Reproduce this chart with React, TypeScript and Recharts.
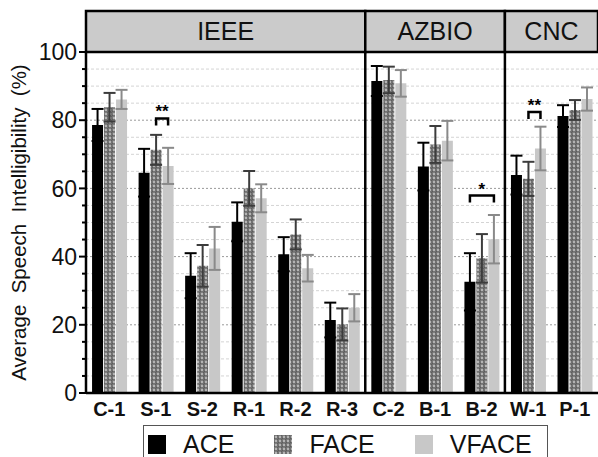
import React from "react";
import {
  BarChart,
  Bar,
  XAxis,
  YAxis,
  CartesianGrid,
  ErrorBar,
  ReferenceArea,
  ReferenceLine,
  LabelList,
  Legend,
} from "recharts";

// conditions on the x axis
const categories = ["C-1", "S-1", "S-2", "R-1", "R-2", "R-3", "C-2", "B-1", "B-2", "W-1", "P-1"];

// mean intelligibility (%) and error (+/-)
const aceMean = [78.6, 64.6, 34.4, 50.2, 40.7, 21.4, 91.5, 66.4, 32.6, 63.9, 81.2];
const aceErr = [4.7, 7.0, 6.6, 5.7, 5.0, 5.1, 4.4, 7.0, 8.4, 5.7, 3.2];
const faceMean = [83.8, 71.3, 37.3, 60.0, 46.5, 20.1, 91.8, 72.9, 39.5, 62.8, 83.0];
const faceErr = [4.2, 4.4, 6.1, 5.1, 4.4, 4.7, 3.9, 5.4, 7.1, 5.0, 2.9];
const vfaceMean = [86.1, 66.6, 42.4, 57.1, 36.6, 25.0, 90.8, 74.0, 45.1, 71.7, 86.2];
const vfaceErr = [2.8, 5.3, 6.3, 4.1, 3.9, 4.0, 3.9, 5.8, 7.1, 6.4, 3.4];

// header groups
const groupNames = ["IEEE", "AZBIO", "CNC"];
const groupFirst = ["C-1", "C-2", "W-1"];
const groupLast = ["R-3", "B-2", "P-1"];

// significance brackets: category, starting series, bracket level, stars
const sigCats = ["S-1", "B-2", "W-1"];
const sigFrom = ["face", "ace", "face"];
const sigLevel = [80.5, 57.9, 82.4];
const sigStars = ["**", "*", "**"];

const yTicks = [0, 5, 10, 15, 20, 25, 30, 35, 40, 45, 50, 55, 60, 65, 70, 75, 80, 85, 90, 95, 100];
const majorGrid = [20, 40, 60, 80];
const minorGrid = [5, 10, 15, 25, 30, 35, 45, 50, 55, 65, 70, 75, 85, 90, 95];

const FONT = "'Liberation Sans', Arial, sans-serif";
const BAR_GAP = 1;

const data = categories.map((cat, i) => {
  const s = sigCats.indexOf(cat);
  return {
    cat,
    ace: aceMean[i],
    aceErr: aceErr[i],
    face: faceMean[i],
    faceErr: faceErr[i],
    vface: vfaceMean[i],
    vfaceErr: vfaceErr[i],
    sig: s >= 0 ? sigStars[s] : null,
  };
});

// map grid values to pixels with the axis scale when available
function gridCoords(values: number[]) {
  return (args: any) => {
    const sc = args?.yAxis?.scale;
    return values.map((v) => {
      if (typeof sc === "function") return sc(v);
      if (sc && typeof sc.map === "function") return sc.map(v);
      const off = args.offset;
      return off.top + off.height * (1 - v / 100);
    });
  };
}

function YTick(props: any) {
  const { x, y, payload } = props;
  const v = payload.value;
  const major = v % 20 === 0;
  return (
    <g>
      <line x1={x - (major ? 7 : 4)} x2={x} y1={y} y2={y} stroke="#000" strokeWidth={2} />
      {major && (
        <text x={x - 9} y={y} dy="0.36em" textAnchor="end" fontSize={23} fill="#111" fontFamily={FONT}>
          {v}
        </text>
      )}
    </g>
  );
}

function Bracket(props: any) {
  const vb = props.viewBox || {};
  const x = props.x ?? vb.x;
  const y = props.y ?? vb.y;
  const w = props.width ?? vb.width;
  const h = props.height ?? vb.height;
  const idx = props.index;
  if (idx == null) return null;
  const cat = categories[idx];
  const s = sigCats.indexOf(cat);
  if (s < 0) return null;
  const k = h / vfaceMean[idx];
  const y0 = y + h;
  const yb = y0 - sigLevel[s] * k;
  const x2 = x + w / 2;
  const steps = sigFrom[s] === "ace" ? 2 : 1;
  const x1 = x2 - steps * (w + BAR_GAP);
  return (
    <g>
      <path
        d={`M${x1},${yb + 7} L${x1},${yb} L${x2},${yb} L${x2},${yb + 7}`}
        fill="none"
        stroke="#000"
        strokeWidth={2.5}
      />
      <text
        x={(x1 + x2) / 2}
        y={yb - 1}
        textAnchor="middle"
        fontSize={17}
        fontWeight="bold"
        fill="#000"
        fontFamily={FONT}
      >
        {sigStars[s]}
      </text>
    </g>
  );
}

function LegendBox() {
  const items = [
    { name: "ACE", fill: "#000" },
    { name: "FACE", fill: "url(#facePat)" },
    { name: "VFACE", fill: "#c8c8c8" },
  ];
  return (
    <div
      style={{
        boxSizing: "border-box",
        width: 405,
        height: 40,
        border: "1.5px solid #555",
        display: "flex",
        alignItems: "flex-start",
        paddingLeft: 4,
        paddingTop: 7,
        fontFamily: FONT,
        fontSize: 25,
        color: "#111",
        background: "#fff",
      }}
    >
      {items.map((it) => (
        <div key={it.name} style={{ display: "flex", alignItems: "center", marginRight: 40 }}>
          <svg width={18} height={19} style={{ marginRight: 17, marginTop: 1 }}>
            <rect width={18} height={19} fill={it.fill} />
          </svg>
          <span style={{ lineHeight: "22px" }}>{it.name}</span>
        </div>
      ))}
    </div>
  );
}

export default function App() {
  return (
    <div style={{ position: "absolute", left: 0, top: 0, width: 598, height: 457, background: "#fff" }}>
      <svg width={0} height={0} style={{ position: "absolute" }}>
        <defs>
          <pattern id="facePat" width={4} height={4} patternUnits="userSpaceOnUse">
            <rect width={4} height={4} fill="#5c5c5c" />
            <circle cx={2} cy={2} r={1.4} fill="#b4b4b4" />
            <circle cx={0} cy={0} r={0.8} fill="#8c8c8c" />
            <circle cx={4} cy={4} r={0.8} fill="#8c8c8c" />
          </pattern>
        </defs>
      </svg>
      <BarChart
        width={598}
        height={457}
        data={data}
        margin={{ top: 52, right: 0, bottom: 0, left: 0 }}
        barCategoryGap="13%"
        barGap={BAR_GAP}
      >
        <CartesianGrid
          vertical={false}
          stroke="#d4d4d4"
          strokeDasharray="3 2"
          horizontalCoordinatesGenerator={gridCoords(minorGrid)}
        />
        <CartesianGrid
          vertical={false}
          stroke="#9a9a9a"
          strokeDasharray="2 2"
          horizontalCoordinatesGenerator={gridCoords(majorGrid)}
        />
        <XAxis
          dataKey="cat"
          height={24}
          tickLine={false}
          tickSize={0}
          tickMargin={9}
          axisLine={{ stroke: "#000", strokeWidth: 2.5 }}
          tick={{ fontSize: 20, fontWeight: "bold", fill: "#111", fontFamily: FONT }}
          interval={0}
        />
        <YAxis
          width={86}
          domain={[0, 100]}
          ticks={yTicks}
          interval={0}
          tickSize={0}
          tickMargin={0}
          tickLine={false}
          axisLine={{ stroke: "#000", strokeWidth: 2.5 }}
          tick={<YTick />}
          label={{
            value: "Average\u00a0 Speech\u00a0 Intelligibility\u00a0 (%)",
            angle: -90,
            position: "insideLeft",
            offset: 19,
            style: { textAnchor: "middle", fontSize: 20.5, fill: "#111", fontFamily: FONT },
          }}
        />
        <Bar dataKey="ace" fill="#000" isAnimationActive={false}>
          <ErrorBar dataKey="aceErr" width={6} stroke="#000" strokeWidth={2} />
        </Bar>
        <Bar dataKey="face" fill="url(#facePat)" isAnimationActive={false}>
          <ErrorBar dataKey="faceErr" width={6} stroke="#3c3c3c" strokeWidth={2} />
        </Bar>
        <Bar dataKey="vface" fill="#c8c8c8" isAnimationActive={false}>
          <ErrorBar dataKey="vfaceErr" width={6} stroke="#8a8a8a" strokeWidth={2} />
          <LabelList dataKey="sig" content={<Bracket />} />
        </Bar>
        {groupFirst.slice(1).map((c) => (
          <ReferenceLine key={c} x={c} position="start" stroke="#000" strokeWidth={2.5} />
        ))}
        {groupNames.map((g, i) => (
          <ReferenceArea
            key={g}
            x1={groupFirst[i]}
            x2={groupLast[i]}
            y1={100}
            y2={112}
            ifOverflow="visible"
            fill="#cbcbcb"
            fillOpacity={1}
            stroke="#000"
            strokeWidth={2.5}
            label={{ value: g, position: "center", fontSize: 25, fill: "#111", fontFamily: FONT }}
          />
        ))}
        <Legend
          content={() => <LegendBox />}
          wrapperStyle={{ position: "absolute", left: 143, top: 425, width: 405, height: 40 }}
        />
      </BarChart>
    </div>
  );
}
